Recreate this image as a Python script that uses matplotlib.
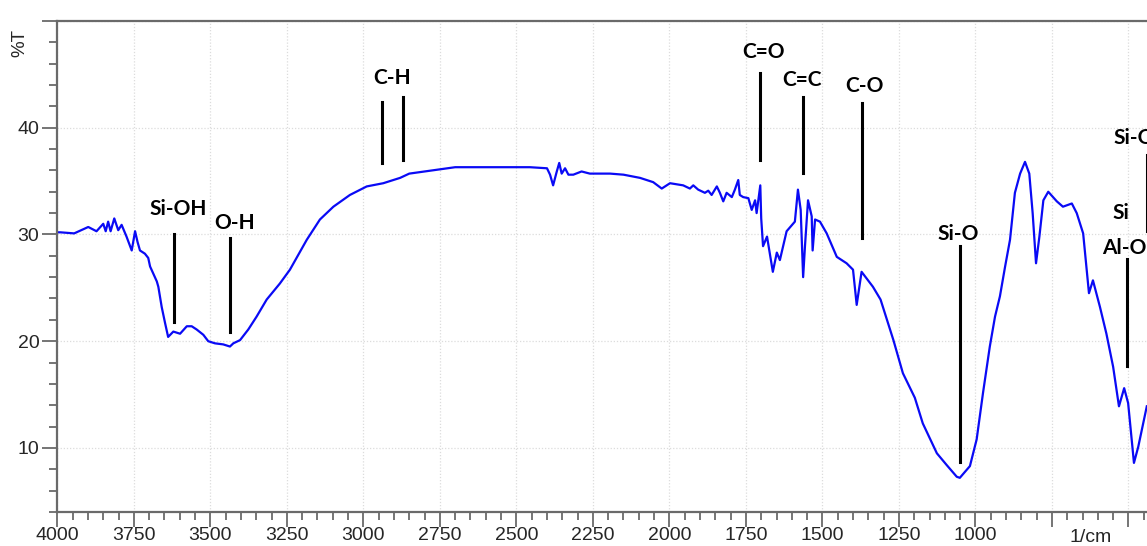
import matplotlib.pyplot as plt
import matplotlib.transforms as mtransforms
from matplotlib.ticker import MultipleLocator

# -----------------------
# FTIR spectrum
# -----------------------
wavenumber = [
    4000, 3990, 3945, 3899, 3872, 3850, 3842, 3834, 3826, 3814, 3801, 3790,
    3774, 3757, 3746, 3738, 3730, 3714, 3703, 3697, 3675, 3670, 3659, 3648,
    3638, 3621, 3599, 3577, 3561, 3545, 3523, 3507, 3485, 3458, 3436, 3425,
    3403, 3376, 3349, 3316, 3273, 3240, 3185, 3142, 3098, 3044, 2989, 2935,
    2902, 2880, 2850, 2800, 2750, 2700, 2600, 2500, 2456, 2400, 2390, 2380,
    2368, 2360, 2352, 2341, 2330, 2314, 2287, 2260, 2194, 2150, 2096, 2053,
    2025, 1998, 1955, 1933, 1922, 1906, 1884, 1873, 1862, 1845, 1835, 1824,
    1813, 1796, 1786, 1775, 1770, 1759, 1742, 1731, 1720, 1715, 1706, 1703,
    1700, 1694, 1681, 1662, 1649, 1639, 1617, 1590, 1580, 1571, 1563, 1557,
    1547, 1535, 1532, 1524, 1508, 1486, 1453, 1421, 1400, 1388, 1372, 1335,
    1310, 1268, 1237, 1198, 1172, 1126, 1094, 1061, 1051, 1018, 996, 975,
    953, 936, 920, 903, 887, 871, 854, 838, 824, 813, 802, 791,
    778, 762, 734, 714, 685, 669, 658, 648, 629, 616, 593, 572,
    550, 531, 514, 501, 482, 468, 440,
]
transmittance = [
    30.2, 30.2, 30.1, 30.7, 30.3, 31.0, 30.3, 31.2, 30.3, 31.5, 30.4, 30.9,
    29.8, 28.5, 30.3, 29.3, 28.5, 28.2, 27.8, 27.0, 25.6, 25.1, 23.2, 21.7,
    20.4, 20.9, 20.7, 21.4, 21.4, 21.1, 20.6, 20.0, 19.8, 19.7, 19.5, 19.8,
    20.1, 21.1, 22.3, 23.9, 25.4, 26.7, 29.5, 31.4, 32.6, 33.7, 34.5, 34.8,
    35.1, 35.3, 35.7, 35.9, 36.1, 36.3, 36.3, 36.3, 36.3, 36.2, 35.6, 34.6,
    35.9, 36.7, 35.7, 36.2, 35.6, 35.6, 35.9, 35.7, 35.7, 35.6, 35.3, 34.9,
    34.3, 34.8, 34.6, 34.3, 34.6, 34.2, 33.9, 34.1, 33.7, 34.5, 33.9, 33.1,
    33.9, 33.5, 34.2, 35.1, 33.7, 33.5, 33.4, 32.3, 33.2, 32.0, 34.0, 34.6,
    31.5, 28.9, 29.8, 26.5, 28.3, 27.6, 30.3, 31.2, 34.2, 32.3, 26.0, 28.9,
    33.2, 31.7, 28.5, 31.4, 31.2, 30.1, 27.9, 27.3, 26.7, 23.4, 26.5, 25.1,
    23.9, 20.1, 17.0, 14.7, 12.3, 9.5, 8.4, 7.3, 7.2, 8.3, 10.8, 15.2,
    19.5, 22.3, 24.2, 27.0, 29.5, 33.9, 35.7, 36.8, 35.7, 32.0, 27.3, 29.8,
    33.2, 34.0, 33.1, 32.6, 32.9, 32.0, 31.0, 30.1, 24.5, 25.7, 23.2, 20.7,
    17.6, 13.9, 15.6, 14.2, 8.6, 10.1, 13.9,
]

# band labels: text, text x, text y, line x, line y0, line y1
band_labels = ["Si-OH", "O-H", "C=O", "C=C", "C-O", "Si-O"]
band_text_x = [3606, 3420, 1691, 1568, 1362, 1057]
band_text_y = [32.4, 31.1, 47.1, 44.5, 43.9, 30.0]
band_line_x = [3618, 3436, 1704, 1562, 1372, 1050]
band_line_y0 = [30.0, 29.7, 45.1, 42.9, 42.3, 28.9]
band_line_y1 = [21.8, 20.9, 37.0, 35.8, 29.7, 8.7]

ch_line_x = [2940, 2870]
ch_line_y0 = [42.4, 42.9]
ch_line_y1 = [36.7, 37.0]

# -----------------------
# Figure
# -----------------------
fig = plt.figure(figsize=(11.47, 5.46), dpi=100)
ax = fig.add_axes([0.0500, 0.0623, 0.9605, 0.8993])

ax.plot(wavenumber, transmittance, color="#0a0af5", lw=1.6)

ax.set_xlim(4000, 400)
ax.set_ylim(4, 50)

ax.xaxis.set_minor_locator(MultipleLocator(50))
ax.yaxis.set_minor_locator(MultipleLocator(2))

xt = list(range(4000, 399, -250))
ax.set_xticks(xt)
ax.set_xticklabels([str(v) if v >= 1000 else "" for v in xt])
ax.set_yticks([10, 20, 30, 40, 50])
ax.set_yticklabels(["10", "20", "30", "40", ""])

ax.grid(True, which="major", color="#dcdcdc", lw=0.9, ls=(0, (1, 1.5)))
ax.set_axisbelow(True)

for side in ["left", "bottom", "top", "right"]:
    ax.spines[side].set_color("#6a6a6a")
    ax.spines[side].set_linewidth(1.6)

ax.tick_params(axis="both", which="major", direction="out", length=11,
               width=1.3, color="#6a6a6a", labelsize=14,
               labelcolor="#262626")
ax.tick_params(axis="x", which="major", pad=0)
ax.tick_params(axis="y", which="major", pad=2)
ax.tick_params(axis="both", which="minor", direction="out", length=6,
               width=1.3, color="#6a6a6a")
for lab in ax.get_xticklabels() + ax.get_yticklabels():
    lab.set_family("Liberation Sans")

# axis unit label sits in the tick-label row
trans = mtransforms.blended_transform_factory(ax.transData, ax.transAxes)
ax.text(625, -0.0345, "1/cm", ha="center", va="top", fontsize=14,
        color="#262626", family="Liberation Sans", transform=trans,
        clip_on=False)

fig.text(0.017, 0.921, "%T", rotation=90, ha="center", va="center",
         fontsize=13.5, color="#262626", family="Liberation Sans")

# -----------------------
# Band annotations
# -----------------------
lab_font = dict(fontsize=15, fontweight="bold", color="black", family="Lato")

for t, tx, ty, lx, y0, y1 in zip(band_labels, band_text_x, band_text_y,
                                 band_line_x, band_line_y0, band_line_y1):
    ax.text(tx, ty, t, ha="center", va="center", **lab_font)
    ax.plot([lx, lx], [y0, y1], color="black", lw=2.2)

ax.text(2907, 44.7, "C-H", ha="center", va="center", **lab_font)
for lx, y0, y1 in zip(ch_line_x, ch_line_y0, ch_line_y1):
    ax.plot([lx, lx], [y0, y1], color="black", lw=2.2)

# right-hand edge labels (cut off by the frame, as in the original)
ax.text(553, 32.0, "Si", ha="left", va="center", clip_on=False, **lab_font)
ax.text(586, 28.7, "Al-O", ha="left", va="center", clip_on=False, **lab_font)
ax.plot([506, 506], [27.7, 17.7], color="black", lw=2.2)
ax.text(550, 39.0, "Si-O", ha="left", va="center", clip_on=False, **lab_font)
ax.plot([440, 440], [37.4, 30.3], color="black", lw=2.2)

plt.savefig("out.png", dpi=100)
plt.close()
